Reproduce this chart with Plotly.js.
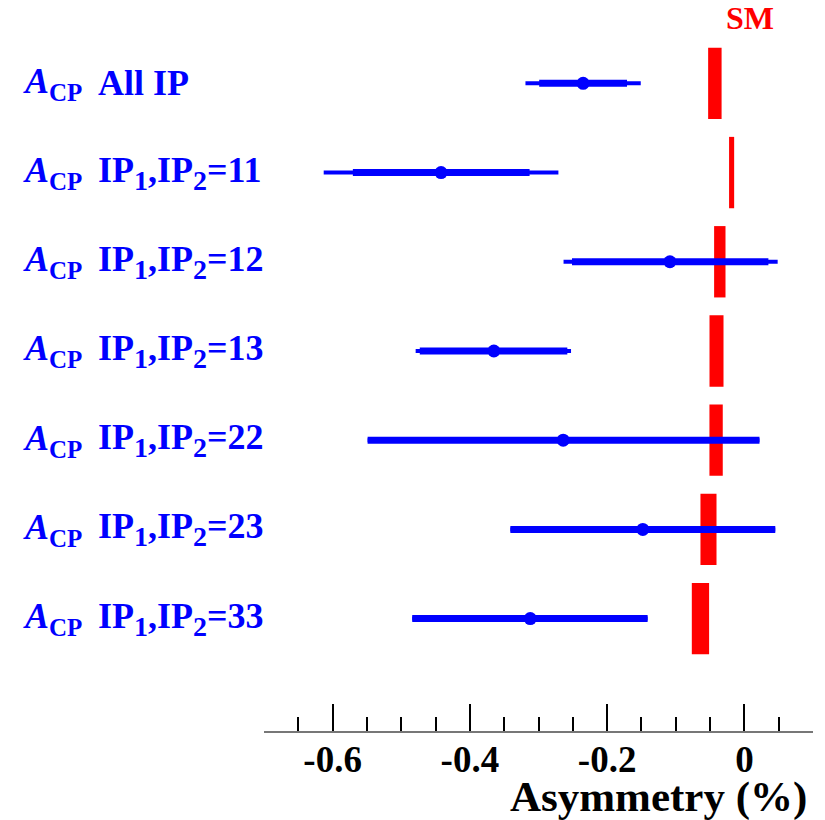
<!DOCTYPE html>
<html>
<head>
<meta charset="utf-8">
<script src="https://cdn.plot.ly/plotly-3.0.1.min.js"></script>
<style>html,body{margin:0;padding:0;background:#fff;}#chart{width:825px;height:820px;}</style>
</head>
<body>
<div id="chart"></div>
<script>
// ---- data ----
const rowLabels = ["All IP",
  "IP<sub>1</sub>,IP<sub>2</sub>=11",
  "IP<sub>1</sub>,IP<sub>2</sub>=12",
  "IP<sub>1</sub>,IP<sub>2</sub>=13",
  "IP<sub>1</sub>,IP<sub>2</sub>=22",
  "IP<sub>1</sub>,IP<sub>2</sub>=23",
  "IP<sub>1</sub>,IP<sub>2</sub>=33"];
const labelPrefix = "<i>A</i><sub>CP</sub>";
const measCenter = [-0.235, -0.442, -0.1085, -0.365, -0.264, -0.148, -0.312];
const statLo     = [-0.299, -0.5705, -0.2512, -0.473, -0.549, -0.341, -0.484];
const statHi     = [-0.171, -0.313, 0.035, -0.258, 0.022, 0.045, -0.141];
const totLo      = [-0.319, -0.613, -0.2635, -0.479, -0.549, -0.341, -0.484];
const totHi      = [-0.151, -0.271, 0.0485, -0.2526, 0.022, 0.045, -0.141];
const smCenter   = [-0.043, -0.0186, -0.0358, -0.0406, -0.0412, -0.0523, -0.064];
const smHalfWidth= [0.0098, 0.0037, 0.0083, 0.0102, 0.0097, 0.0117, 0.0126];
const xTickVals  = [-0.6, -0.4, -0.2, 0];
const xTickText  = ["-0.6", "-0.4", "-0.2", "0"];
const xTitle = "Asymmetry (%)";
const smLabel = "SM";

// ---- build traces ----
const rowPos = rowLabels.map((_, i) => i);
const BLUE = "#0000ff", RED = "#ff0000";
const FONT = "'Liberation Serif', 'Times New Roman', serif";

const totTrace = {
  type: "scatter", mode: "markers", x: measCenter, y: rowPos,
  marker: {size: 1, color: BLUE, opacity: 0},
  error_x: {type: "data", symmetric: false,
    array: totHi.map((h, i) => h - measCenter[i]),
    arrayminus: totLo.map((l, i) => measCenter[i] - l),
    thickness: 4, width: 0, color: BLUE},
  hoverinfo: "skip", showlegend: false
};
const statTrace = {
  type: "scatter", mode: "markers", x: measCenter, y: rowPos,
  marker: {size: 13, color: BLUE, symbol: "circle"},
  error_x: {type: "data", symmetric: false,
    array: statHi.map((h, i) => h - measCenter[i]),
    arrayminus: statLo.map((l, i) => measCenter[i] - l),
    thickness: 7, width: 0, color: BLUE},
  hoverinfo: "skip", showlegend: false
};
const smTrace = {
  type: "bar", orientation: "h", y: rowPos,
  x: smHalfWidth.map(w => 2 * w),
  base: smCenter.map((c, i) => c - smHalfWidth[i]),
  width: 0.8, marker: {color: RED, line: {width: 0}},
  hoverinfo: "skip", showlegend: false
};

const L = 264, R = 12, T = 40, B = 89;
const plotW = 825 - L - R;
function pxToPaper(px) { return (px - L) / plotW; }
function bigSub(s, size) {
  return s.replace(/<sub>(.*?)<\/sub>/g, '<sub><span style="font-size:' + size + 'px">$1</span></sub>');
}

const annotations = [];
rowPos.forEach((y, i) => {
  annotations.push({xref: "paper", yref: "y", x: pxToPaper(21), y: y,
    xanchor: "left", yanchor: "middle", showarrow: false, yshift: 0,
    text: "<b>" + bigSub(labelPrefix, 25) + "</b>",
    font: {family: FONT, size: 36, color: BLUE}});
  annotations.push({xref: "paper", yref: "y", x: pxToPaper(96), y: y,
    xanchor: "left", yanchor: "middle", showarrow: false, yshift: 0,
    text: "<b>" + bigSub(rowLabels[i], 28) + "</b>",
    font: {family: FONT, size: 36, color: BLUE}});
});
annotations.push({xref: "paper", yref: "paper", x: 1, y: 0, xanchor: "right", yanchor: "top",
  xshift: -4, yshift: -40, showarrow: false, text: "<b>" + xTitle + "</b>",
  font: {family: FONT, size: 43, color: "#000"}});
annotations.push({xref: "paper", yref: "paper", x: pxToPaper(750), y: 1, xanchor: "center", yanchor: "bottom",
  yshift: 2, showarrow: false, text: "<b>" + smLabel + "</b>",
  font: {family: FONT, size: 32, color: RED}});

const layout = {
  width: 825, height: 820,
  margin: {l: L, r: R, t: T, b: B, pad: 0},
  paper_bgcolor: "#fff", plot_bgcolor: "#fff",
  showlegend: false,
  xaxis: {range: [-0.7, 0.1], showgrid: false, zeroline: false,
    showline: true, linecolor: "#777", linewidth: 2,
    tickmode: "array", tickvals: xTickVals, ticktext: xTickText,
    ticks: "inside", ticklen: 27, tickwidth: 2, tickcolor: "#000",
    ticklabelstandoff: -5,
    minor: {dtick: 0.05, tick0: 0, ticks: "inside", ticklen: 14, tickwidth: 2, tickcolor: "#000", showgrid: false},
    tickfont: {family: FONT, size: 37, color: "#000", weight: "bold"},
    fixedrange: true},
  yaxis: {range: [7.26, -0.486], showgrid: false, zeroline: false, showline: false,
    showticklabels: false, ticks: "", fixedrange: true},
  annotations: annotations
};

Plotly.newPlot("chart", [totTrace, statTrace, smTrace], layout, {staticPlot: true, displayModeBar: false});
</script>
</body>
</html>
